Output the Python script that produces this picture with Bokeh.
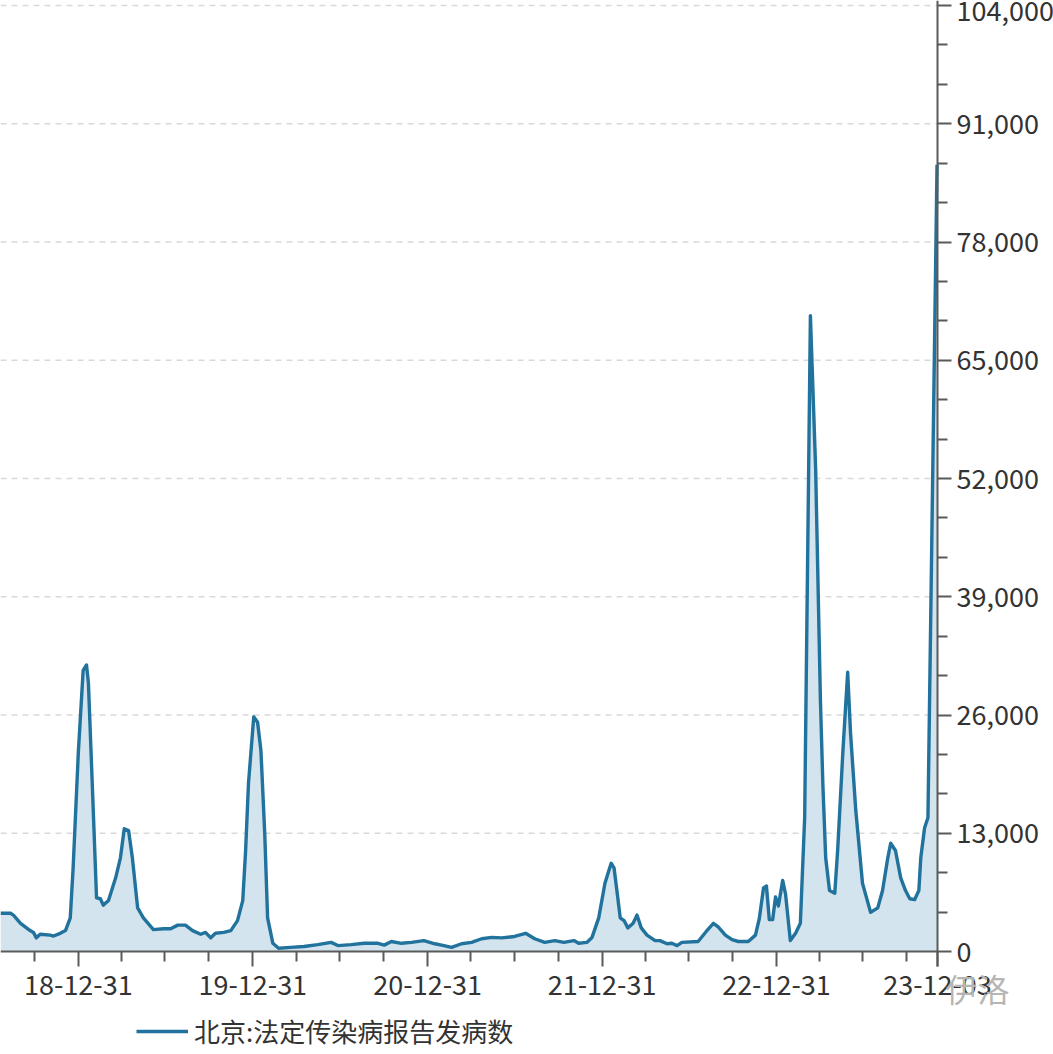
import pandas as pd
from bokeh.plotting import figure
from bokeh.models import (FixedTicker, NumeralTickFormatter, Legend, LegendItem,
                          Label, Range1d)
from bokeh.embed import file_html
from bokeh.resources import INLINE

# ---- data ----
dates = [
    "2018-07-21", "2018-08-11", "2018-08-17", "2018-09-01", "2018-09-21", "2018-09-28",
    "2018-10-04", "2018-10-12", "2018-11-02", "2018-11-09", "2018-11-23", "2018-12-04",
    "2018-12-14", "2018-12-20", "2018-12-31", "2019-01-10", "2019-01-17", "2019-01-21",
    "2019-01-29", "2019-02-07", "2019-02-15", "2019-02-21", "2019-03-04", "2019-03-19",
    "2019-03-29", "2019-04-06", "2019-04-15", "2019-04-23", "2019-05-04", "2019-05-16",
    "2019-06-06", "2019-06-27", "2019-07-12", "2019-07-27", "2019-08-12", "2019-08-27",
    "2019-09-13", "2019-09-23", "2019-10-04", "2019-10-14", "2019-10-31", "2019-11-15",
    "2019-11-29", "2019-12-10", "2019-12-16", "2019-12-22", "2020-01-02", "2020-01-10",
    "2020-01-17", "2020-01-25", "2020-01-31", "2020-02-11", "2020-02-23", "2020-03-19",
    "2020-04-16", "2020-05-15", "2020-06-12", "2020-06-26", "2020-07-24", "2020-08-20",
    "2020-09-18", "2020-10-01", "2020-10-16", "2020-11-06", "2020-11-27", "2020-12-23",
    "2021-01-15", "2021-02-03", "2021-02-19", "2021-03-12", "2021-04-02", "2021-04-23",
    "2021-05-14", "2021-06-04", "2021-07-01", "2021-07-24", "2021-08-12", "2021-09-02",
    "2021-09-23", "2021-10-12", "2021-11-02", "2021-11-12", "2021-11-29", "2021-12-10",
    "2021-12-24", "2022-01-06", "2022-01-19", "2022-01-25", "2022-01-31", "2022-02-07",
    "2022-02-15", "2022-02-23", "2022-03-06", "2022-03-14", "2022-03-23", "2022-04-04",
    "2022-04-21", "2022-05-01", "2022-05-16", "2022-05-26", "2022-06-06", "2022-06-16",
    "2022-07-20", "2022-08-06", "2022-08-21", "2022-08-31", "2022-09-15", "2022-09-29",
    "2022-10-12", "2022-11-02", "2022-11-17", "2022-11-25", "2022-12-04", "2022-12-10",
    "2022-12-16", "2022-12-23", "2022-12-29", "2023-01-04", "2023-01-13", "2023-01-19",
    "2023-01-29", "2023-02-09", "2023-02-19", "2023-02-28", "2023-03-12", "2023-03-23",
    "2023-04-02", "2023-04-07", "2023-04-13", "2023-04-21", "2023-05-02", "2023-05-08",
    "2023-05-19", "2023-05-29", "2023-06-04", "2023-06-15", "2023-06-29", "2023-07-16",
    "2023-07-31", "2023-08-10", "2023-08-21", "2023-08-27", "2023-09-06", "2023-09-17",
    "2023-09-27", "2023-10-06", "2023-10-16", "2023-10-25", "2023-10-29", "2023-11-06",
    "2023-11-13", "2023-12-02",
]
cases = [
    4200, 4200, 4000, 3100, 2300, 2100,
    1500, 1900, 1800, 1700, 2000, 2300,
    3700, 9200, 22000, 30900, 31500, 29500,
    18500, 5900, 5800, 5100, 5600, 8100,
    10300, 13500, 13300, 10300, 4800, 3700,
    2400, 2500, 2500, 2900, 2900, 2300,
    1900, 2100, 1500, 2000, 2100, 2300,
    3400, 5600, 11100, 18500, 25800, 25200,
    22100, 13000, 3700, 900, 350, 450,
    550, 750, 1000, 650, 750, 900,
    900, 700, 1100, 900, 1000, 1200,
    850, 650, 450, 850, 1000, 1400,
    1550, 1500, 1650, 2000, 1400, 1000,
    1200, 1000, 1200, 900, 1000, 1550,
    3700, 7500, 9700, 9200, 6700, 3700,
    3400, 2600, 3100, 4000, 2600, 1800,
    1200, 1200, 850, 900, 650, 1000,
    1100, 2200, 3100, 2700, 1800, 1300,
    1100, 1100, 1800, 3600, 7000, 7200,
    3500, 3500, 6000, 5000, 7800, 6300,
    1200, 2000, 3100, 14700, 69900, 53000,
    27600, 18500, 10300, 6700, 6400, 11100,
    22000, 30700, 24000, 15500, 7500, 4300,
    4800, 6700, 10300, 11900, 11100, 8100,
    6700, 5800, 5700, 6700, 10300, 13600,
    14700, 86500,
]
series_name = "北京:法定传染病报告发病数"
year_ticks = ["2018-12-31", "2019-12-31", "2020-12-31", "2021-12-31", "2022-12-31", "2023-12-03"]
year_labels = ["18-12-31", "19-12-31", "20-12-31", "21-12-31", "22-12-31", "23-12-03"]
quarter_ticks = ["2018-09-30", "2019-03-31", "2019-06-30", "2019-09-30",
                 "2020-03-31", "2020-06-30", "2020-09-30", "2021-03-31", "2021-06-30",
                 "2021-09-30", "2022-03-31", "2022-06-30", "2022-09-30", "2023-03-31",
                 "2023-06-30", "2023-09-30"]
y_ticks = [0, 13000, 26000, 39000, 52000, 65000, 78000, 91000, 104000]
watermark = "伊洛"


def to_ms(s):
    return [int(v) // 10**6 for v in pd.to_datetime(s).astype("int64")]


xs = to_ms(dates)
maj = to_ms(year_ticks)
mnr = to_ms(quarter_ticks)
x_start = to_ms(["2018-07-21"])[0]
x_end = to_ms(["2023-12-03"])[0]

# page geometry: plot area 937 x 951 px, axes drawn at its right / bottom edge
W, H = 1053, 1054
PW, PH = 937, 951
Y_TOP = 104550
ms_per_px = (x_end - x_start) / PW
val_per_px = Y_TOP / PH
x_hi = x_end + (W - PW) * ms_per_px
y_lo = -(H - PH) * val_per_px

LINE = "#21729c"
FILL = "#d3e4ee"
AX = "#5a5a5a"
TXT = "#333333"
FONT = "Noto Sans CJK SC"

p = figure(frame_width=W, frame_height=H,
           x_range=Range1d(x_start, x_hi), y_range=Range1d(y_lo, Y_TOP),
           y_axis_location="right", output_backend="svg", toolbar_location=None,
           min_border_left=0, min_border_top=0, min_border_right=0, min_border_bottom=0)
p.outline_line_color = None
p.background_fill_color = "white"
p.border_fill_color = "white"
p.xgrid.visible = False
p.ygrid.visible = False

# dashed horizontal guide lines at the y ticks, ending at the axis
p.segment(x0=[x_start] * (len(y_ticks) - 1), x1=[x_end] * (len(y_ticks) - 1),
          y0=y_ticks[1:], y1=y_ticks[1:], line_color="#d9d9d9", line_width=1.5,
          line_dash="6 5")

p.varea(x=xs, y1=0, y2=cases, fill_color=FILL, fill_alpha=1.0)
ln = p.line(x=xs, y=cases, line_color=LINE, line_width=3.4, line_join="round")

# x axis, drawn at value 0
xa = p.xaxis[0]
xa.fixed_location = 0
xa.bounds = (x_start, x_end)
xa.ticker = FixedTicker(ticks=maj, minor_ticks=mnr)
xa.major_label_overrides = {t: l for t, l in zip(maj, year_labels)}
xa.major_tick_out = 15
xa.major_tick_in = 0
xa.minor_tick_out = 10
xa.minor_tick_in = 0
xa.axis_line_color = AX
xa.axis_line_width = 2
xa.major_tick_line_color = AX
xa.major_tick_line_width = 2
xa.minor_tick_line_color = AX
xa.minor_tick_line_width = 2
xa.major_label_text_font = FONT
xa.major_label_text_font_size = "27px"
xa.major_label_text_color = TXT
xa.major_label_standoff = 8

# y axis on the right, drawn at the last date
ya = p.yaxis[0]
ya.fixed_location = x_end
ya.bounds = (-15 * val_per_px, Y_TOP)
ya.ticker = FixedTicker(ticks=y_ticks,
                        minor_ticks=[t + k * 13000 / 3 for t in y_ticks[:-1] for k in (1, 2)])
ya.formatter = NumeralTickFormatter(format="0,0")
ya.major_tick_out = 14
ya.major_tick_in = 0
ya.minor_tick_out = 10
ya.minor_tick_in = 0
ya.axis_line_color = AX
ya.axis_line_width = 2
ya.major_tick_line_color = AX
ya.major_tick_line_width = 2
ya.minor_tick_line_color = AX
ya.minor_tick_line_width = 2
ya.major_label_text_font = FONT
ya.major_label_text_font_size = "27px"
ya.major_label_text_color = TXT
ya.major_label_standoff = 5

legend = Legend(items=[LegendItem(label=series_name, renderers=[ln])],
                location=(136, 5), orientation="horizontal",
                label_text_font=FONT, label_text_font_size="26px",
                label_text_color=TXT, glyph_width=52, glyph_height=24,
                border_line_color=None, background_fill_alpha=0,
                margin=0, padding=4, label_standoff=6)
p.add_layout(legend)

wm = Label(x=x_end + 8 * ms_per_px, y=-(1010 - PH) * val_per_px, text=watermark,
           text_color="#b5b5b5", text_font=FONT, text_font_size="32px",
           text_baseline="bottom")
p.add_layout(wm)

open("out.html", "w").write(file_html(p, INLINE))
